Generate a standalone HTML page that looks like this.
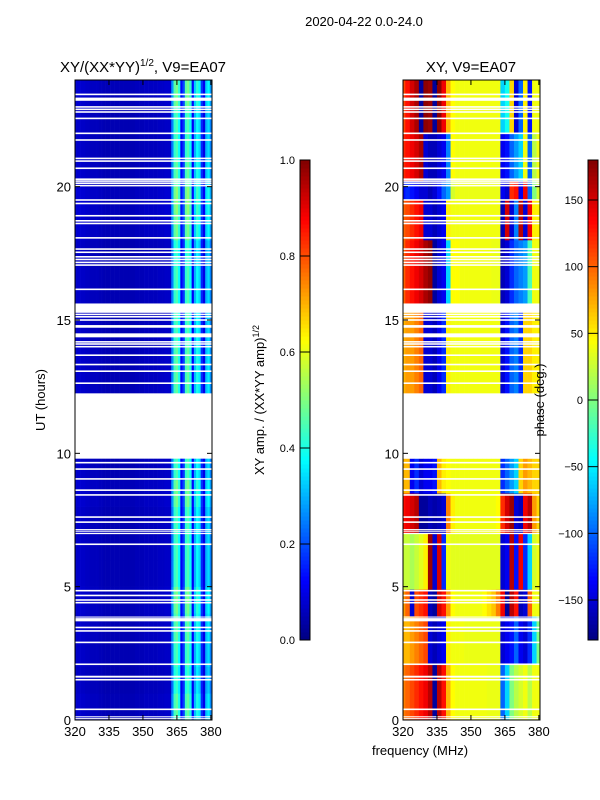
<!DOCTYPE html>
<html><head><meta charset="utf-8">
<style>
html,body{margin:0;padding:0;background:#fff;}
svg{display:block;font-family:"Liberation Sans",sans-serif;}
</style></head>
<body>
<svg id="fig" width="600" height="800" viewBox="0 0 600 800" xmlns="http://www.w3.org/2000/svg">
<text x="364" y="26" font-size="13" text-anchor="middle">2020-04-22 0.0-24.0</text>
<text x="143" y="72" font-size="15" text-anchor="middle">XY/(XX*YY)<tspan font-size="10" dy="-6">1/2</tspan><tspan dy="6">, V9=EA07</tspan></text>
<text x="471" y="72" font-size="15" text-anchor="middle">XY, V9=EA07</text>
<text x="420" y="755" font-size="13" text-anchor="middle">frequency (MHz)</text>
<text transform="translate(45,400) rotate(-90)" font-size="13" text-anchor="middle">UT (hours)</text>
<text transform="translate(264,400) rotate(-90)" font-size="13" text-anchor="middle">XY amp. / (XX*YY amp)<tspan font-size="9" dy="-5">1/2</tspan></text>
<g id="left"></g>
<g id="right"></g>
<g id="axes"></g>
<text transform="translate(544,400) rotate(-90)" font-size="13" text-anchor="middle">phase (deg.)</text>
</svg>
<script>
// ---- data ----
const freqStart = 320, freqEnd = 380.5;
const ampFreqs = [];            // 1 MHz channel centers
for (let f = 320; f <= 380; f++) ampFreqs.push(f);
const ampValues = [0.07,0.07,0.075,0.07,0.07,0.065,0.065,0.06,0.06,0.06,0.06,0.055,0.055,0.05,0.05,0.05,0.05,0.05,0.05,0.05,0.05,0.05,0.05,0.05,0.05,0.05,0.05,0.055,0.055,0.055,0.055,0.06,0.06,0.06,0.06,0.06,0.06,0.065,0.065,0.065,0.07,0.07,0.07,
0.25,0.42,0.45,0.38,0.12,0.18,0.42,0.45,0.38,0.12,0.30,0.38,0.34,0.16,0.10,0.30,0.34,0.25];
const hourGain = [1.05,0.95,1,1.05,1.1,1,1,1,1.1,1,1,1,1.05,1.05,1,1,1,0.95,1.1,1.15,1.05,1,1,1.1];
const phaseFreqs = [320,322,324,326,328,330,332,334,336,338,340,342,344,346,348,350,352,354,356,358,360,362,364,366,368,370,372,374,376,378,380];
const segStart = [0,2.1,3.9,4.9,7.0,8.5,12.2,15.3,18.0,19.5,20.2,22.0];
const segEnd   = [2.1,3.9,4.9,7.0,8.5,9.8,15.3,18.0,19.5,20.2,22.0,24.0];
const segPhase = [
 [90,100,110,120,130,140,160,-170,160,130,70,45,40,40,40,40,40,40,40,38,38,38,-100,-60,0,20,30,40,20,40,40],
 [70,70,80,90,100,110,-150,-160,-150,-140,50,40,40,40,38,38,38,38,38,38,38,38,-150,-140,-130,-100,-140,-150,-120,-60,0],
 [80,100,-150,110,120,130,-160,-170,150,130,80,45,40,40,40,40,40,40,45,55,65,90,140,-170,160,130,-160,-150,100,40,40],
 [25,25,15,25,35,50,170,-150,150,-120,40,35,35,35,35,35,35,35,35,35,35,35,-150,-140,160,-130,140,-120,-60,30,40],
 [130,140,150,160,-170,-170,-160,-165,-160,-150,90,50,40,40,40,40,40,40,40,40,40,45,120,150,170,-150,-160,140,160,80,60],
 [70,70,-140,-120,-150,-140,-140,-130,70,50,45,40,40,40,40,40,40,40,40,40,40,40,-120,-100,-80,-60,60,80,70,60,60],
 [70,80,80,90,100,-150,-150,-160,-140,-120,50,40,40,40,40,40,40,40,40,40,40,40,-150,-130,-100,-90,-120,60,60,50,50],
 [100,120,130,140,150,165,175,-170,-150,-140,-60,45,45,40,40,40,40,40,40,40,38,38,-160,-150,-120,-100,-90,-80,-20,40,40],
 [100,110,120,130,140,-150,-150,-160,-150,-140,50,40,40,40,40,40,40,40,40,40,40,40,-160,150,-150,-90,160,-150,140,50,50],
 [-130,-120,-130,-140,-150,-150,-160,-150,-130,-100,-80,30,38,38,38,38,38,38,38,38,38,38,-140,-150,120,130,-140,140,-100,0,30],
 [120,130,140,150,165,-150,-160,-160,-150,-140,-90,45,40,40,40,40,40,40,40,40,40,40,-140,-130,-100,-80,-60,40,-100,20,40],
 [110,130,150,165,-170,175,170,-170,175,140,70,45,40,40,40,40,40,40,40,40,40,40,-60,-40,60,-150,-100,50,-130,40,40]
];
const gapStart = [0.03,0.10,0.37,1.48,1.59,2.06,2.88,3.31,3.44,3.70,3.84,4.37,4.47,4.64,4.82,6.56,6.97,7.06,7.12,7.39,7.58,8.41,8.59,9.01,9.38,9.62,9.8,
12.6,13.05,13.3,13.65,13.97,14.07,14.15,14.35,14.71,14.97,15.09,15.18,15.27,16.12,17.03,17.13,17.24,17.34,17.51,17.63,18.05,18.59,18.69,18.88,19.34,19.47,20.01,20.10,20.18,20.25,20.66,20.93,21.03,21.72,21.97,22.53,22.77,22.87,22.96,23.22,23.43];
const gapEnd   = [0.07,0.14,0.43,1.54,1.66,2.12,2.94,3.37,3.50,3.82,3.88,4.43,4.53,4.70,4.88,6.62,7.02,7.10,7.16,7.45,7.64,8.47,8.65,9.07,9.44,9.68,12.25,
12.66,13.11,13.36,13.71,14.03,14.13,14.21,14.50,14.81,15.03,15.15,15.24,15.62,16.18,17.09,17.19,17.30,17.40,17.57,17.69,18.11,18.65,18.75,18.94,19.40,19.53,20.07,20.16,20.24,20.31,20.72,20.99,21.09,21.78,22.03,22.59,22.83,22.93,23.02,23.34,23.49];
const xTicks = [320,335,350,365,380];
const yTicks = [0,5,10,15,20];
const ampTicks = [0.0,0.2,0.4,0.6,0.8,1.0];
const phaseTicks = [-150,-100,-50,0,50,100,150];

// ---- helpers ----
const NS = "http://www.w3.org/2000/svg";
function jet(v){v=Math.max(0,Math.min(1,v));const c=x=>Math.round(255*Math.max(0,Math.min(1,x)));
 return `rgb(${c(1.5-Math.abs(4*v-3))},${c(1.5-Math.abs(4*v-2))},${c(1.5-Math.abs(4*v-1))})`;}
function mk(parent,tag,attrs){const e=document.createElementNS(NS,tag);for(const k in attrs)e.setAttribute(k,attrs[k]);parent.appendChild(e);return e;}
const Y0=720,Y1=80;
const yScale=h=>Y0-(h/24)*(Y0-Y1);
function xScaleFor(x0,x1){return f=>x0+(f-freqStart)/(freqEnd-freqStart)*(x1-x0);}
const panels=[{x0:75,x1:212,g:document.getElementById('left')},{x0:403,x1:540,g:document.getElementById('right')}];

// left amplitude
(function(){
 const p=panels[0],xs=xScaleFor(p.x0,p.x1);
 for(let h=0;h<24;h++){
  for(let i=0;i<ampFreqs.length;i++){
   const xa=xs(Math.max(freqStart,ampFreqs[i]-0.5)), xb=xs(Math.min(freqEnd,ampFreqs[i]+0.5));
   const r=mk(p.g,'rect',{x:xa,y:yScale(h+1),width:xb-xa+0.3,height:yScale(h)-yScale(h+1)+0.3,fill:jet(ampValues[i]*hourGain[h])});
   
   
  }
 }
})();
// right phase
(function(){
 const p=panels[1],xs=xScaleFor(p.x0,p.x1);
 for(let s=0;s<segStart.length;s++){
  for(let i=0;i<phaseFreqs.length;i++){
   const xa=xs(Math.max(freqStart,phaseFreqs[i]-1)), xb=xs(Math.min(freqEnd,phaseFreqs[i]+1));
   const r=mk(p.g,'rect',{x:xa,y:yScale(segEnd[s]),width:xb-xa+0.3,height:yScale(segStart[s])-yScale(segEnd[s])+0.3,fill:jet((segPhase[s][i]+180)/360)});
   
   
  }
 }
})();
// gaps
panels.forEach(p=>{
 for(let k=0;k<gapStart.length;k++){
  const r=mk(p.g,'rect',{x:p.x0,y:yScale(gapEnd[k]),width:p.x1-p.x0,height:yScale(gapStart[k])-yScale(gapEnd[k]),fill:'#fff'});
  
  
 }
});
// axes
const ax=document.getElementById('axes');
panels.forEach((p,pi)=>{
 const xs=xScaleFor(p.x0,p.x1);
 const fr=mk(ax,'rect',{x:p.x0,y:Y1,width:p.x1-p.x0,height:Y0-Y1,fill:'none',stroke:'#000','stroke-width':1});
 
 
 xTicks.forEach(t=>{
  const x=xs(t);
  mk(ax,'line',{x1:x,x2:x,y1:Y0,y2:Y0-5,stroke:'#000'});
  mk(ax,'line',{x1:x,x2:x,y1:Y1,y2:Y1+5,stroke:'#000'});
  const tx=mk(ax,'text',{x:x,y:Y0+16,'font-size':13,'text-anchor':'middle'});
  tx.textContent=t;
  
  
 });
 yTicks.forEach(t=>{
  const y=yScale(t);
  mk(ax,'line',{x1:p.x0,x2:p.x0+5,y1:y,y2:y,stroke:'#000'});
  mk(ax,'line',{x1:p.x1,x2:p.x1-5,y1:y,y2:y,stroke:'#000'});
  const tx=mk(ax,'text',{x:p.x0-4,y:y+5,'font-size':13,'text-anchor':'end'});
  tx.textContent=t;
  
  
 });
});
// colorbars
function colorbar(x,lo,hi,ticks,name){
 const top=160,bot=640,w=10,n=120;
 const g=mk(ax,'g',{});
 
 
 for(let i=0;i<n;i++){
  const y=bot-(i+1)*(bot-top)/n;
  mk(g,'rect',{x:x,y:y,width:w,height:(bot-top)/n+0.5,fill:jet((i+0.5)/n)});
 }
 mk(g,'rect',{x:x,y:top,width:w,height:bot-top,fill:'none',stroke:'#000'});
 ticks.forEach(t=>{
  const y=bot-(t-lo)/(hi-lo)*(bot-top);
  mk(g,'line',{x1:x,x2:x+w,y1:y,y2:y,stroke:'#000'});
  const tx=mk(g,'text',{x:x-5,y:y+4,'font-size':11,'text-anchor':'end'});
  tx.textContent=(Math.abs(hi-1)<1e-9)?t.toFixed(1):(t<0?'\u2212'+(-t):t);
  
  
 });
}
colorbar(300,0,1,ampTicks,'amplitude-colorbar');
colorbar(588,-180,180,phaseTicks,'phase-colorbar');
</script>
</body></html>
